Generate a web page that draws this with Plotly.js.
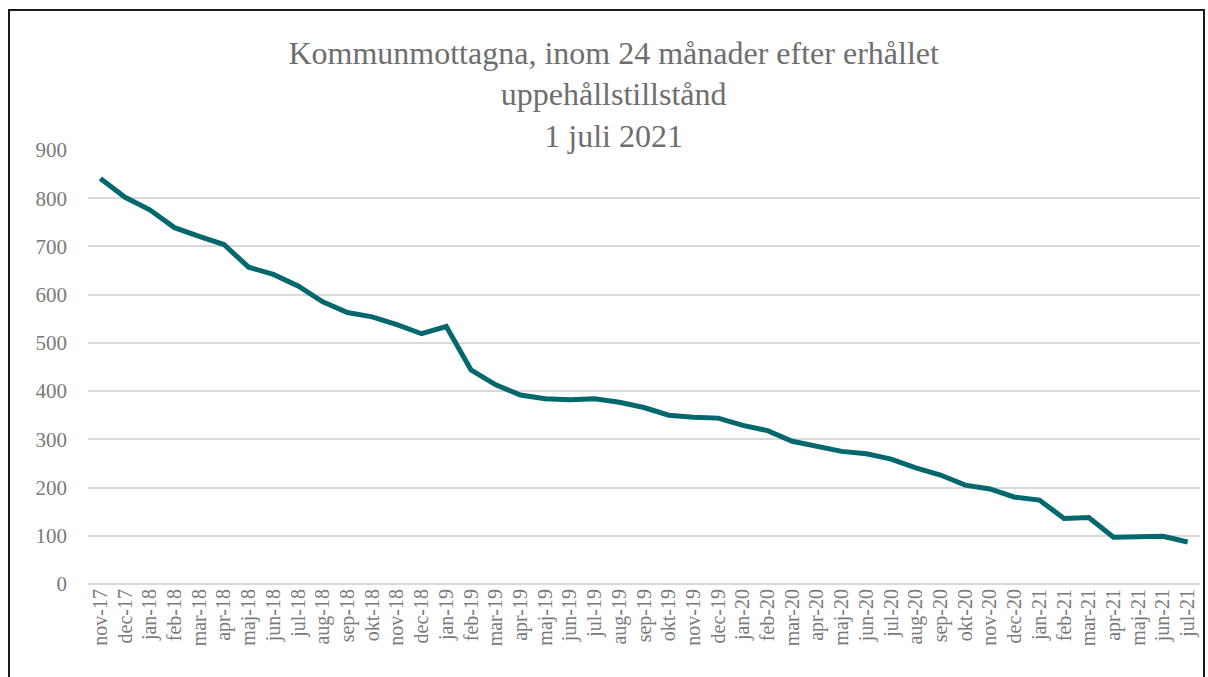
<!DOCTYPE html>
<html>
<head>
<meta charset="utf-8">
<script src="https://cdn.plot.ly/plotly-3.0.1.min.js"></script>
<style>
  html, body { margin: 0; padding: 0; background: #fff; }
  #wrap { position: relative; width: 1208px; height: 677px; overflow: hidden; }
  #chart { width: 1208px; height: 677px; }
  #frame { position: absolute; left: 8px; top: 9px; width: 1193px; height: 720px;
           border: 2px solid #1a1a1a; border-bottom: none; pointer-events: none; }
</style>
</head>
<body>
<div id="wrap">
  <div id="chart"></div>
  <div id="frame"></div>
</div>
<script>
const months = [
  "nov-17","dec-17",
  "jan-18","feb-18","mar-18","apr-18","maj-18","jun-18","jul-18","aug-18","sep-18","okt-18","nov-18","dec-18",
  "jan-19","feb-19","mar-19","apr-19","maj-19","jun-19","jul-19","aug-19","sep-19","okt-19","nov-19","dec-19",
  "jan-20","feb-20","mar-20","apr-20","maj-20","jun-20","jul-20","aug-20","sep-20","okt-20","nov-20","dec-20",
  "jan-21","feb-21","mar-21","apr-21","maj-21","jun-21","jul-21"
];
const kommunmottagna = [
  841, 802,
  776, 739, 721, 704, 657, 642, 618, 585, 563, 554, 538, 519,
  534, 444, 413, 392, 384, 382, 384, 377, 366, 350, 346, 344,
  329, 318, 296, 285, 275, 270, 259, 241, 226, 205, 197, 180,
  174, 136, 138, 97, 99, 99, 87
];
const yTicks = [0, 100, 200, 300, 400, 500, 600, 700, 800, 900];
const titleText = "Kommunmottagna, inom 24 månader efter erhållet<br>uppehållstillstånd<br>1 juli 2021";

const serif = "'Liberation Serif', 'DejaVu Serif', serif";

Plotly.newPlot("chart", [{
  type: "scatter",
  mode: "lines",
  x: months,
  y: kommunmottagna,
  line: { color: "#03686e", width: 5 },
  hoverinfo: "x+y"
}], {
  width: 1208,
  height: 677,
  margin: { l: 88, r: 8, t: 150, b: 93 },
  paper_bgcolor: "#ffffff",
  plot_bgcolor: "#ffffff",
  showlegend: false,
  title: {
    text: titleText,
    font: { family: serif, size: 32, color: "#6e6e6e" },
    x: 0.508, xanchor: "center",
    y: 0.906, yanchor: "top"
  },
  xaxis: {
    type: "category",
    categoryorder: "array",
    categoryarray: months,
    tickmode: "array",
    tickvals: months,
    ticktext: months,
    range: [-0.5, months.length - 0.5],
    tickangle: -90,
    tickfont: { family: serif, size: 20, color: "#7a7a7a" },
    showgrid: false,
    showline: false,
    zeroline: false,
    ticks: "",
    ticklen: 0
  },
  yaxis: {
    range: [0, 900],
    tickvals: yTicks,
    ticktext: yTicks.map(String),
    tickfont: { family: serif, size: 21, color: "#7a7a7a" },
    showgrid: true,
    gridcolor: "#d9d9d9",
    gridwidth: 2,
    zeroline: true,
    zerolinecolor: "#d9d9d9",
    zerolinewidth: 2,
    showline: false,
    ticks: "",
    ticklabelstandoff: 20
  }
}, { displayModeBar: false, staticPlot: true });
</script>
</body>
</html>
